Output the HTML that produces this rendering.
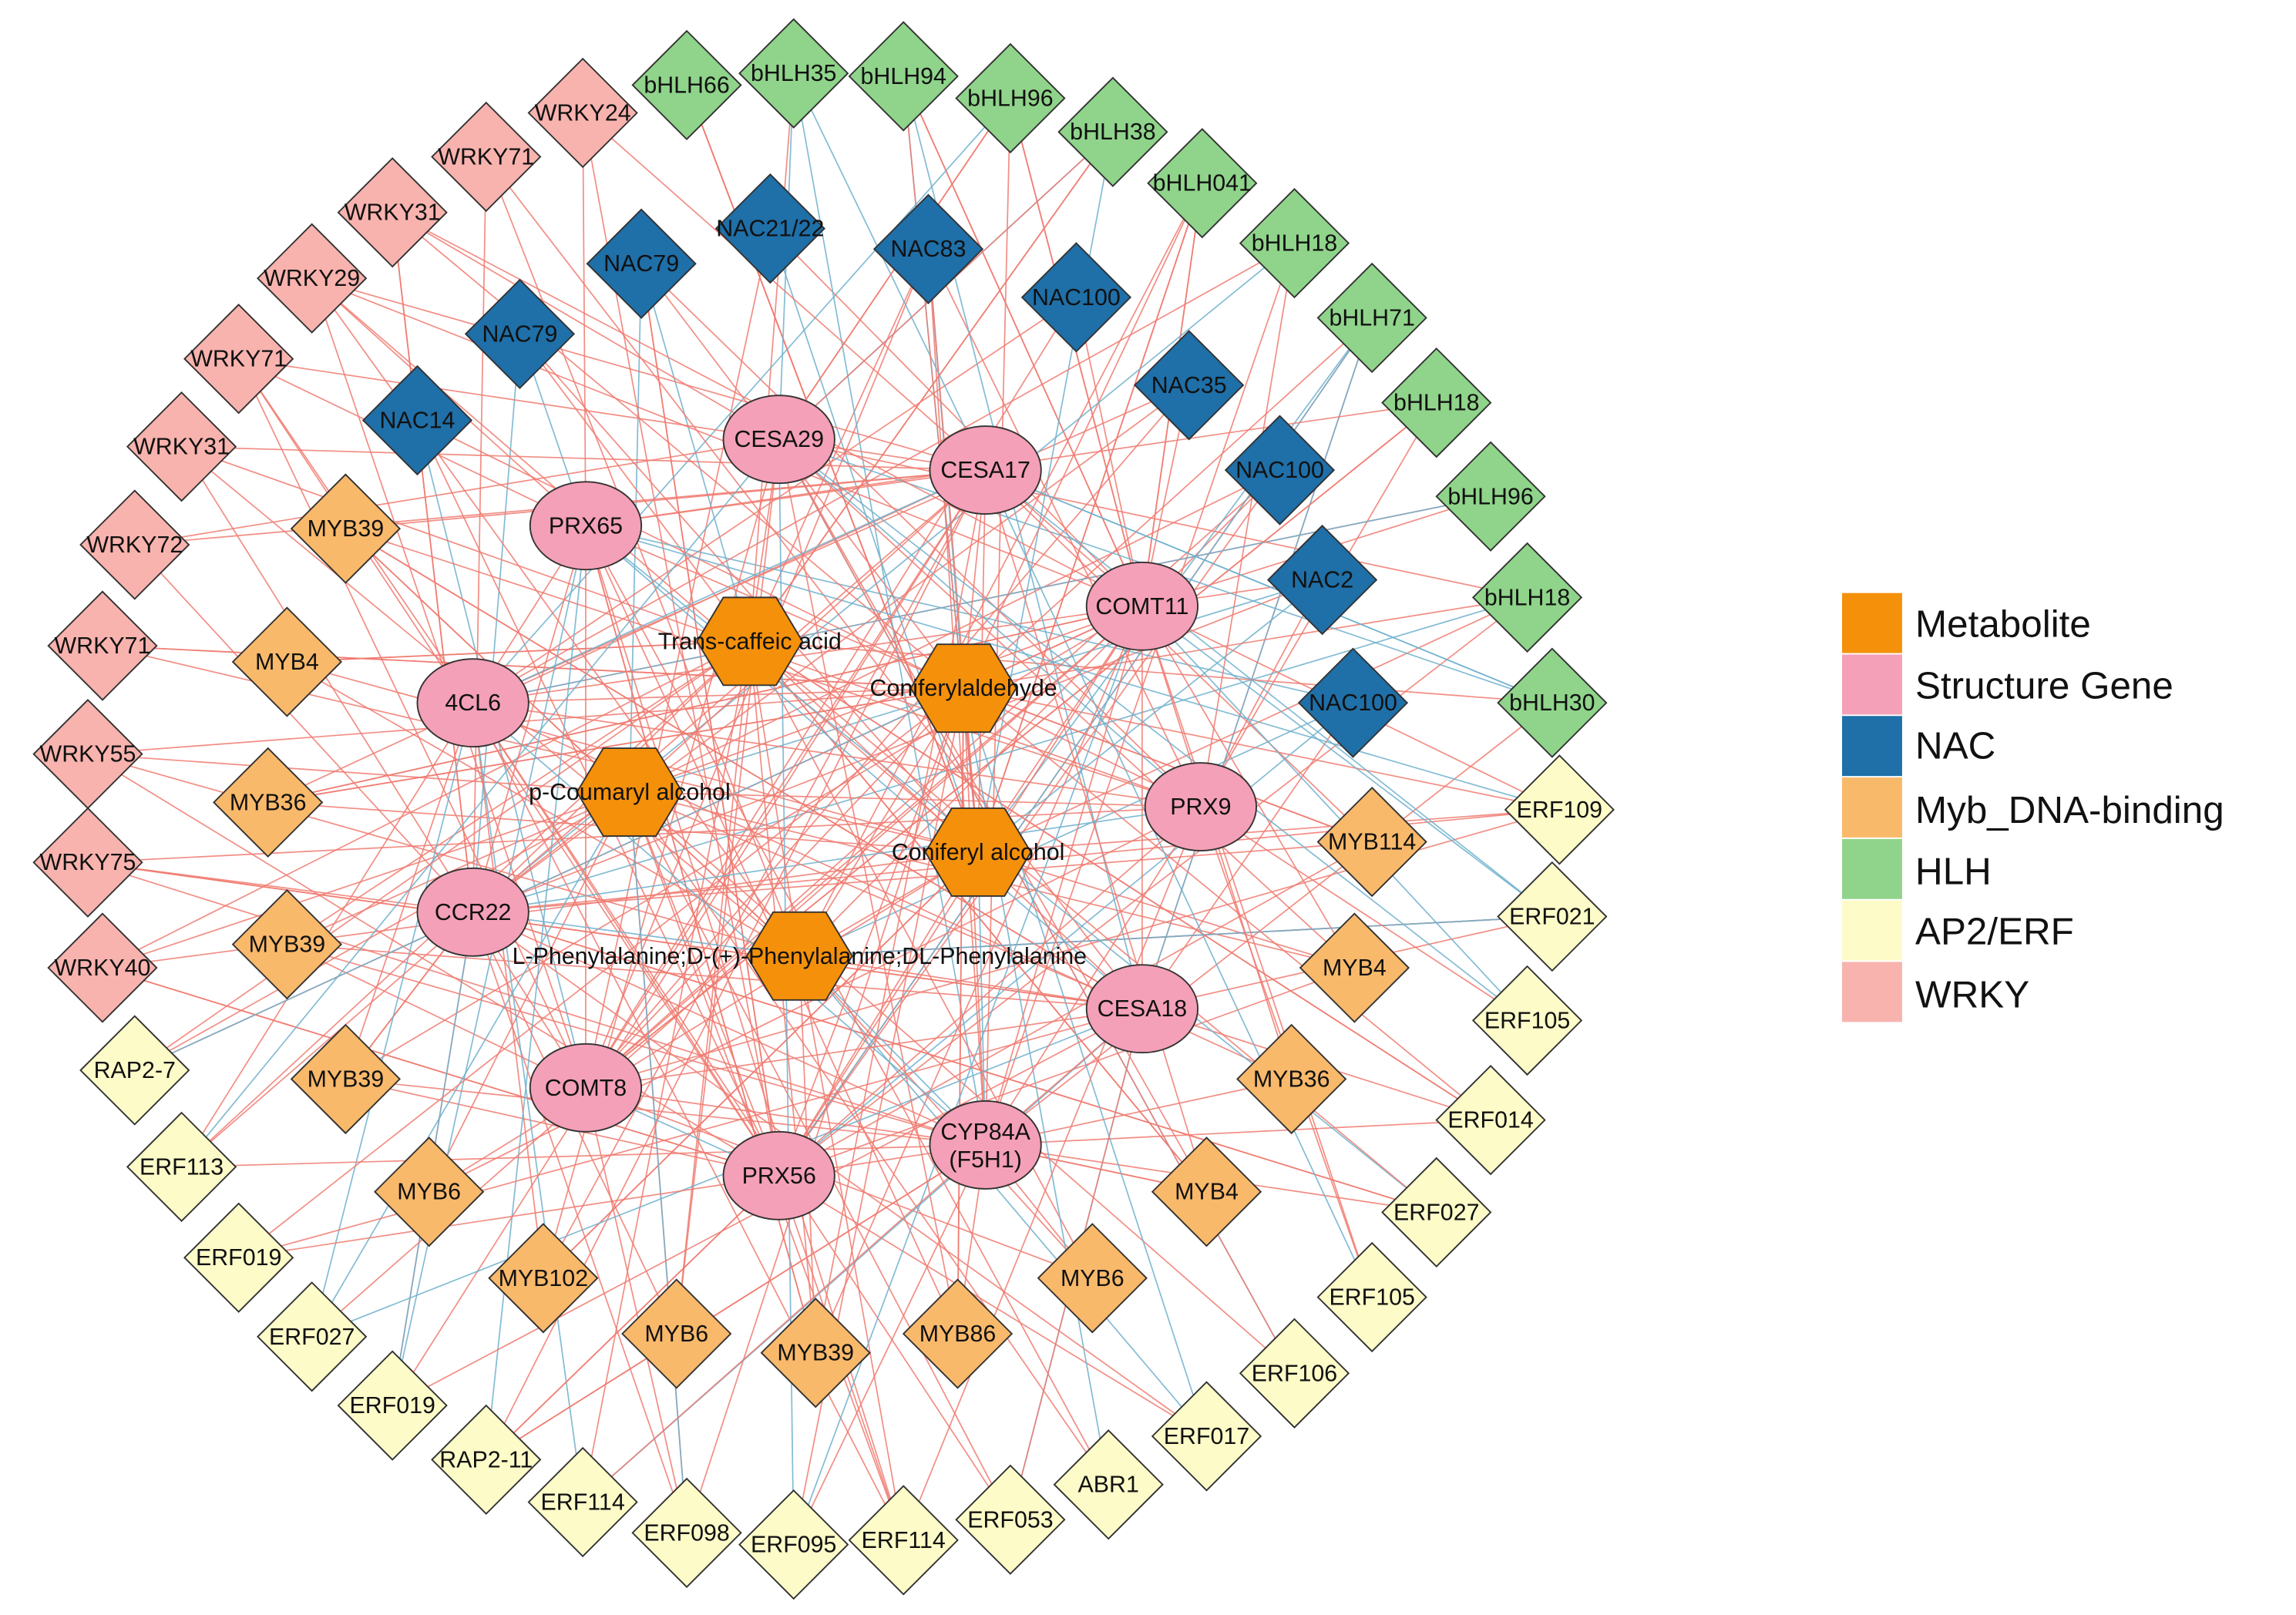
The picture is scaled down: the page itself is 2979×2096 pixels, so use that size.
<!DOCTYPE html>
<html><head><meta charset="utf-8"><style>
html,body{margin:0;padding:0;background:#fff;}
svg{display:block;}
text{font-family:"Liberation Sans",Arial,sans-serif;}
</style></head><body>
<svg id="s" width="2979" height="2096" viewBox="0 0 1568 1103" xmlns="http://www.w3.org/2000/svg">
<g id="edges"></g>
<g id="nodes"></g>
<g id="labels" font-size="16" text-anchor="middle" dominant-baseline="central" fill="#111"></g>
<g font-size="26" fill="#111">
<rect x="1258" y="405" width="41" height="41" fill="#f5900a"/><text x="1308" y="435">Metabolite</text>
<rect x="1258" y="447" width="41" height="41" fill="#f4a0b8"/><text x="1308" y="477">Structure Gene</text>
<rect x="1258" y="489" width="41" height="41" fill="#1f6fa8"/><text x="1308" y="518">NAC</text>
<rect x="1258" y="531" width="41" height="41" fill="#f9b96b"/><text x="1308" y="562">Myb_DNA-binding</text>
<rect x="1258" y="573" width="41" height="41" fill="#8fd48a"/><text x="1308" y="604">HLH</text>
<rect x="1258" y="615" width="41" height="41" fill="#fdfbc8"/><text x="1308" y="645">AP2/ERF</text>
<rect x="1258" y="657" width="41" height="41" fill="#f8b3ae"/><text x="1308" y="688">WRKY</text>
</g>
</svg>
<script>
var S=[["CESA29",532,300],["CESA17",673,321],["PRX65",400,359],["COMT11",780,414],["4CL6",323,480],["PRX9",820,551],["CCR22",323,623],["CESA18",780,689],["COMT8",400,743],["CYP84A|(F5H1)",673,782],["PRX56",532,803]];
var M=[["Trans-caffeic acid",512,438],["Coniferylaldehyde",658,470],["p-Coumaryl alcohol",430,541],["Coniferyl alcohol",668,582],["L-Phenylalanine;D-(+)-Phenylalanine;DL-Phenylalanine",546,653]];
var D=[
["#1f6fa8",[["NAC21/22",526,156],["NAC79",438,180],["NAC83",634,170],["NAC79",355,228],["NAC100",735,203],["NAC14",285,287],["NAC35",812,263],["NAC100",874,321],["NAC2",903,396],["NAC100",924,480]]],
["#8fd48a",[["bHLH66",469,58],["bHLH35",542,50],["bHLH94",617,52],["bHLH96",690,67],["bHLH38",760,90],["bHLH041",821,125],["bHLH18",884,166],["bHLH71",937,217],["bHLH18",981,275],["bHLH96",1018,339],["bHLH18",1043,408],["bHLH30",1060,480]]],
["#f8b3ae",[["WRKY24",398,77],["WRKY71",332,107],["WRKY31",268,145],["WRKY29",213,190],["WRKY71",163,245],["WRKY31",124,305],["WRKY72",92,372],["WRKY71",70,441],["WRKY55",60,515],["WRKY75",60,589],["WRKY40",70,661]]],
["#f9b96b",[["MYB39",236,361],["MYB4",196,452],["MYB36",183,548],["MYB39",196,645],["MYB39",236,737],["MYB6",293,814],["MYB102",371,873],["MYB6",462,911],["MYB39",557,924],["MYB86",654,911],["MYB6",746,873],["MYB4",824,814],["MYB36",882,737],["MYB4",925,661],["MYB114",937,575]]],
["#fdfbc8",[["ERF109",1065,553],["ERF021",1060,626],["ERF105",1043,697],["ERF014",1018,765],["ERF027",981,828],["ERF105",937,886],["ERF106",884,938],["ERF017",824,981],["ABR1",757,1014],["ERF053",690,1038],["ERF114",617,1052],["ERF095",542,1055],["ERF098",469,1047],["ERF114",398,1026],["RAP2-11",332,997],["ERF019",268,960],["ERF027",213,913],["ERF019",163,859],["ERF113",124,797],["RAP2-7",92,731]]]];
var ns="http://www.w3.org/2000/svg";
function el(p,t,a){var e=document.createElementNS(ns,t);for(var k in a)e.setAttribute(k,a[k]);document.getElementById(p).appendChild(e);return e;}
var seed=7;function r(){seed=(seed*16807)%2147483647;return seed/2147483647;}
var C=S.concat(M);
D.forEach(function(g){g[1].forEach(function(n){var k=3+Math.floor(r()*4);for(var i=0;i<k;i++){var t=C[Math.floor(r()*C.length)];var blue=(g[0]=="#1f6fa8"||g[0]=="#8fd48a"||g[0]=="#fdfbc8")&&r()<0.3;el("edges","line",{x1:n[1],y1:n[2],x2:t[1],y2:t[2],stroke:blue?"#6fb0cc":"#f07a70","stroke-width":0.9,"stroke-opacity":0.85});}});});
for(var i=0;i<C.length;i++)for(var j=i+1;j<C.length;j++)if(r()<0.45)el("edges","line",{x1:C[i][1],y1:C[i][2],x2:C[j][1],y2:C[j][2],stroke:r()<0.2?"#6fb0cc":"#f07a70","stroke-width":0.9,"stroke-opacity":0.85});
D.forEach(function(g){g[1].forEach(function(n){var x=n[1],y=n[2],h=37;el("nodes","polygon",{points:(x)+","+(y-h)+" "+(x+h)+","+y+" "+x+","+(y+h)+" "+(x-h)+","+y,fill:g[0],stroke:"#333","stroke-width":1});var t=el("labels","text",{x:x,y:y});t.textContent=n[0];});});
M.forEach(function(n){var x=n[1],y=n[2],w=36,h=30;el("nodes","polygon",{points:(x-w)+","+y+" "+(x-w/2)+","+(y-h)+" "+(x+w/2)+","+(y-h)+" "+(x+w)+","+y+" "+(x+w/2)+","+(y+h)+" "+(x-w/2)+","+(y+h),fill:"#f5900a",stroke:"#333","stroke-width":1});var t=el("labels","text",{x:x,y:y});t.textContent=n[0];});
S.forEach(function(n){var x=n[1],y=n[2];el("nodes","ellipse",{cx:x,cy:y,rx:38,ry:30,fill:"#f4a0b8",stroke:"#333","stroke-width":1});var p=n[0].split("|");if(p.length==1){var t=el("labels","text",{x:x,y:y});t.textContent=p[0];}else{var t=el("labels","text",{x:x,y:y-9});t.textContent=p[0];var u=el("labels","text",{x:x,y:y+10});u.textContent=p[1];}});
</script>
</body></html>
